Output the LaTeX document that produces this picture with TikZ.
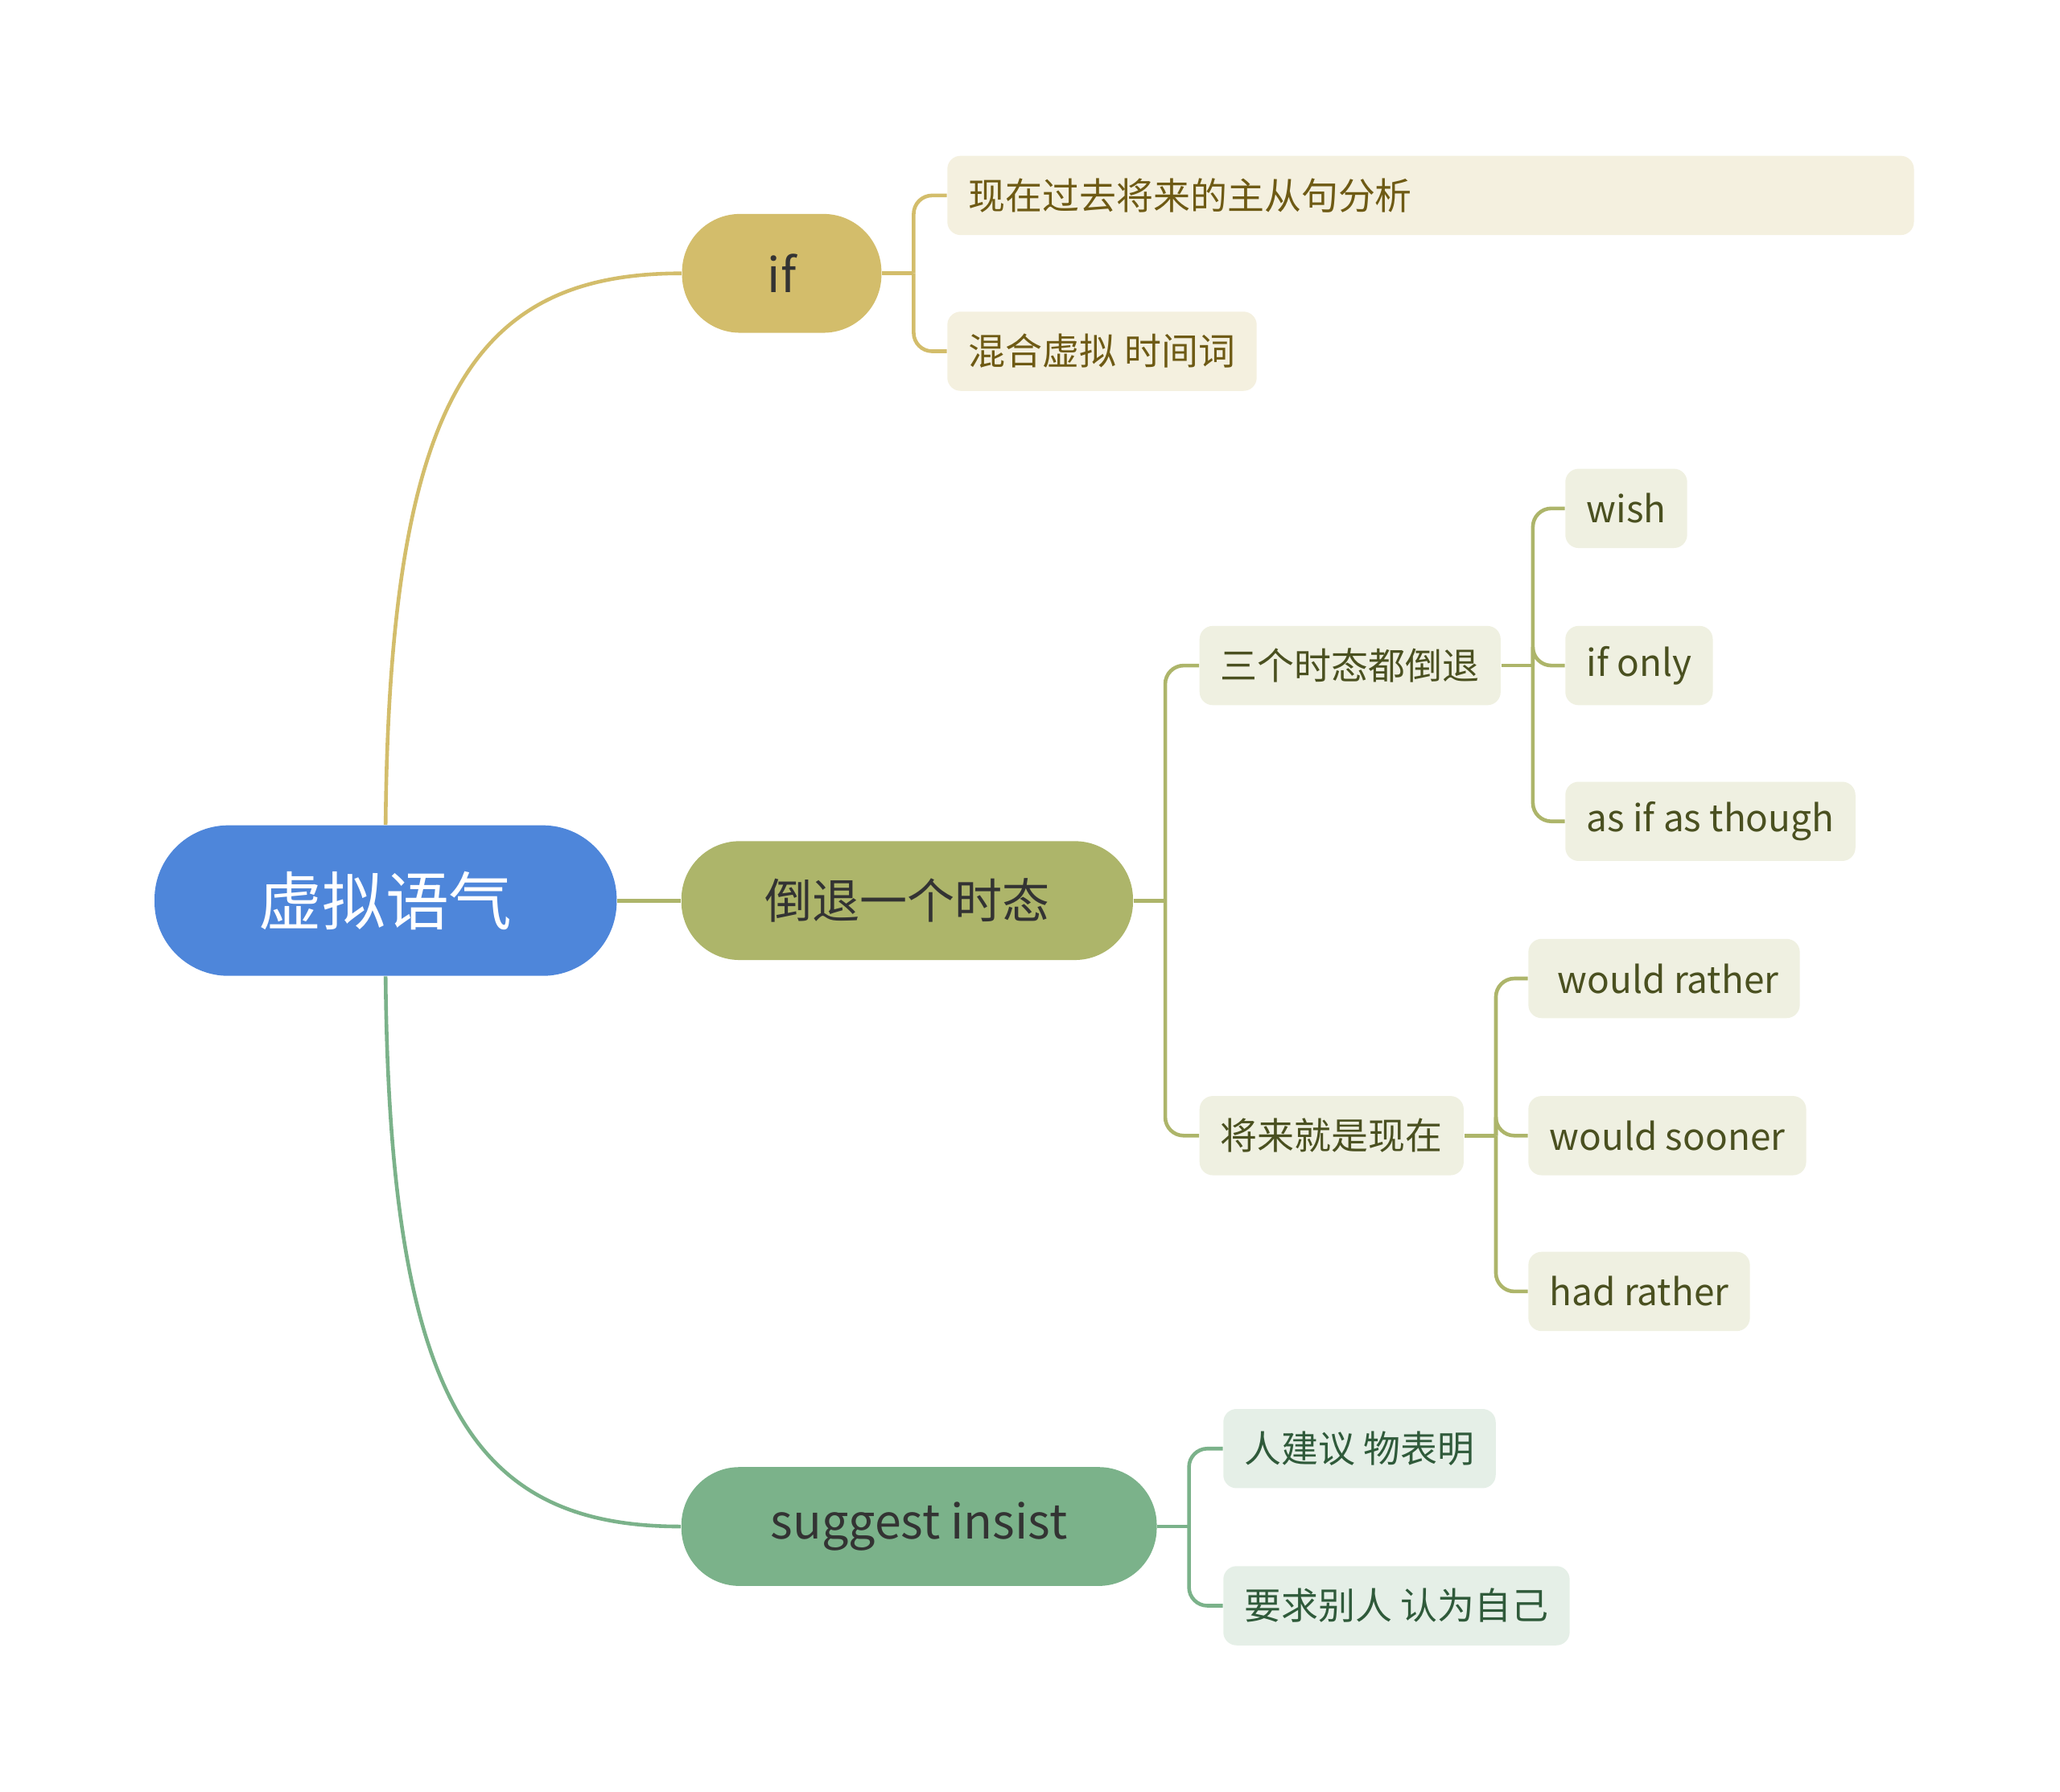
\documentclass[tikz,border=0pt]{standalone}
\usepackage{fontspec}
\setmainfont{Noto Sans CJK SC}
\usetikzlibrary{calc}
\definecolor{rootc}{HTML}{4E86DA}
\definecolor{ifc}{HTML}{D3BD6B}
\definecolor{dtc}{HTML}{ADB56A}
\definecolor{sgc}{HTML}{7BB28A}
\definecolor{ifl}{HTML}{F4F0DF}
\definecolor{dtl}{HTML}{EFF0E1}
\definecolor{sgl}{HTML}{E5EFE7}
\definecolor{ift}{HTML}{6E5A14}
\definecolor{dtt}{HTML}{4A5020}
\definecolor{sgt}{HTML}{2F5A3A}
\tikzset{
  mainbox/.style={rounded corners=22pt,minimum height=45pt,font=\fontsize{18}{20}\selectfont,text=black!80,inner xsep=12pt},
  leafbox/.style={rounded corners=5pt,minimum height=30pt,font=\fontsize{14}{16}\selectfont,inner xsep=8pt,anchor=west},
  conn/.style={line width=1.4pt}
}
\begin{document}
\begin{tikzpicture}[x=0.5pt,y=-0.5pt]
\useasboundingbox (0,0) rectangle (1560,1357);
\node[rounded corners=28pt,fill=rootc,minimum width=175pt,minimum height=57pt,text=white,font=\fontsize{24}{26}\selectfont] (root) at (292,682) {虚拟语气};
\node[mainbox,fill=ifc,minimum width=75.5pt] (if) at (592,207) {if};
\node[mainbox,fill=dtc,minimum width=171pt] (dt) at (687,682) {倒退一个时态};
\node[mainbox,fill=sgc,minimum width=180pt] (sg) at (696,1156) {suggest insist};
% leaves
\node[leafbox,fill=ifl,text=ift,minimum width=366pt,align=left,text width=350pt] (a1) at (717,148) {现在过去将来的主从句分析};
\node[leafbox,fill=ifl,text=ift] (a2) at (717,266) {混合虚拟 时间词};
\node[leafbox,fill=dtl,text=dtt] (b1) at (908,504) {三个时态都倒退};
\node[leafbox,fill=dtl,text=dtt] (b2) at (908,860) {将来就是现在};
\node[leafbox,fill=dtl,text=dtt] (c1) at (1185,385) {wish};
\node[leafbox,fill=dtl,text=dtt] (c2) at (1185,504) {if only};
\node[leafbox,fill=dtl,text=dtt] (c3) at (1185,622) {as if as though};
\node[leafbox,fill=dtl,text=dtt] (d1) at (1157,741) {\ would rather};
\node[leafbox,fill=dtl,text=dtt] (d2) at (1157,860) {would sooner};
\node[leafbox,fill=dtl,text=dtt] (d3) at (1157,978) {had rather};
\node[leafbox,fill=sgl,text=sgt] (e1) at (926,1097) {人建议 物表明};
\node[leafbox,fill=sgl,text=sgt] (e2) at (926,1216) {要求别人 认为自己};
% root connectors
\draw[conn,ifc] (root.north) .. controls (295,300) and (360,207) .. (if.west);
\draw[conn,dtc] (root.east) -- (dt.west);
\draw[conn,sgc] (root.south) .. controls (295,1064) and (360,1156) .. (sg.west);
% brackets
\coordinate (ja) at ($(if.east)+(12pt,0)$);
\draw[conn,ifc] (if.east) -- (ja);
\foreach \c in {a1,a2} \draw[conn,ifc,rounded corners=7pt] (ja) |- (\c.west);
\coordinate (jb) at ($(dt.east)+(12pt,0)$);
\draw[conn,dtc] (dt.east) -- (jb);
\foreach \c in {b1,b2} \draw[conn,dtc,rounded corners=7pt] (jb) |- (\c.west);
\coordinate (jc) at ($(b1.east)+(12pt,0)$);
\draw[conn,dtc] (b1.east) -- (jc);
\foreach \c in {c1,c2,c3} \draw[conn,dtc,rounded corners=7pt] (jc) |- (\c.west);
\coordinate (jd) at ($(b2.east)+(12pt,0)$);
\draw[conn,dtc] (b2.east) -- (jd);
\foreach \c in {d1,d2,d3} \draw[conn,dtc,rounded corners=7pt] (jd) |- (\c.west);
\coordinate (je) at ($(sg.east)+(12pt,0)$);
\draw[conn,sgc] (sg.east) -- (je);
\foreach \c in {e1,e2} \draw[conn,sgc,rounded corners=7pt] (je) |- (\c.west);
\end{tikzpicture}
\end{document}
